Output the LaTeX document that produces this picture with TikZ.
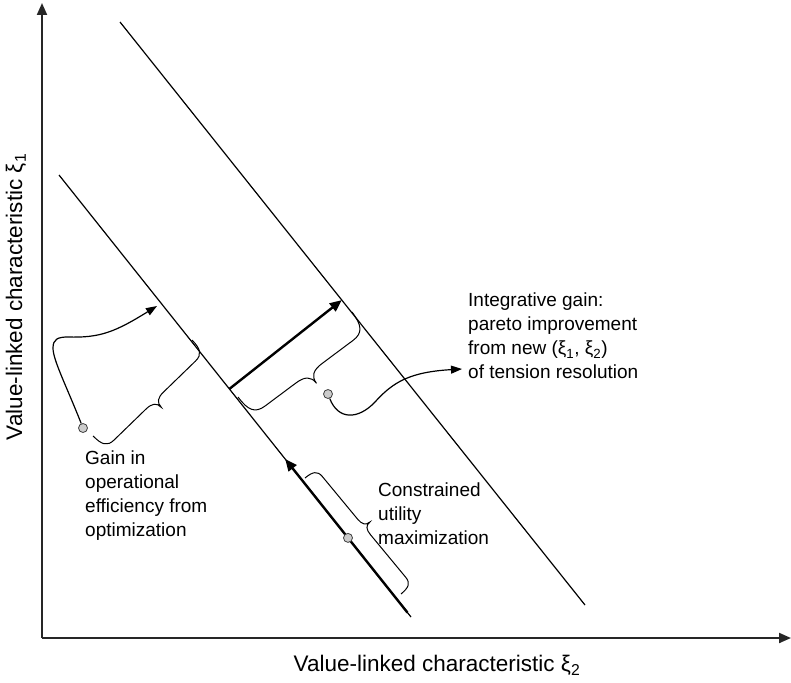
\documentclass[tikz,border=0pt]{standalone}
\usepackage{fontspec}
\setmainfont{Liberation Sans}
\usetikzlibrary{arrows.meta,decorations,calc}

% A curly brace with rounded end curls and a pointed middle tip
\pgfdeclaredecoration{softbrace}{brace}{%
  \state{brace}[width=+\pgfdecoratedremainingdistance,next state=final]{%
    \pgfmathsetlengthmacro\bA{\pgfdecorationsegmentamplitude}%
    \pgfmathsetlengthmacro\bL{\pgfdecoratedremainingdistance}%
    \pgfpathmoveto{\pgfpointorigin}%
    \pgfpathcurveto{\pgfpoint{0pt}{.45*\bA}}{\pgfpoint{.1*\bA}{.65*\bA}}{\pgfpoint{.45*\bA}{.65*\bA}}%
    \pgfpathlineto{\pgfpoint{.5*\bL-.45*\bA}{.65*\bA}}%
    \pgfpathcurveto{\pgfpoint{.5*\bL-.15*\bA}{.65*\bA}}{\pgfpoint{.5*\bL}{.75*\bA}}{\pgfpoint{.5*\bL}{\bA}}%
    \pgfpathcurveto{\pgfpoint{.5*\bL}{.75*\bA}}{\pgfpoint{.5*\bL+.15*\bA}{.65*\bA}}{\pgfpoint{.5*\bL+.45*\bA}{.65*\bA}}%
    \pgfpathlineto{\pgfpoint{\bL-.45*\bA}{.65*\bA}}%
    \pgfpathcurveto{\pgfpoint{\bL-.1*\bA}{.65*\bA}}{\pgfpoint{\bL}{.45*\bA}}{\pgfpoint{\bL}{0pt}}%
  }%
  \state{final}{}%
}

\begin{document}
\begin{tikzpicture}[x=1pt,y=-1pt,
  axisline/.style={line width=2pt,draw=black!85,-{Triangle[length=12pt,width=10pt]}},
  budget/.style={line width=1.2pt},
  shiftarrow/.style={line width=2.4pt,-{Triangle[length=12pt,width=10pt]}},
  curly/.style={line width=1pt,decorate,decoration={softbrace,amplitude=#1}},
  pointer/.style={line width=1.2pt,-{Triangle[length=11pt,width=8pt]}},
  knob/.style={circle,draw=black!75,fill=black!20,line width=0.8pt,minimum size=9pt,inner sep=0pt},
  note/.style={font=\fontsize{19}{24}\selectfont,align=left,inner sep=0pt,anchor=north west},
  axisnote/.style={font=\fontsize{22.5}{27}\selectfont,inner sep=0pt},
]
\useasboundingbox (0,0) rectangle (791,682);

% axes
\coordinate (origin) at (42,638);
\coordinate (ytop) at (42,3);
\coordinate (xend) at (791,638);
\draw[axisline] (origin) -- (ytop);
\draw[axisline] (origin) -- (xend);

% the two parallel frontier lines
\coordinate (i1) at (59,175);
\coordinate (i2) at (411,617);
\coordinate (o1) at (120,22);
\coordinate (o2) at (585,605);
\draw[budget] (i1) -- (i2);
\draw[budget] (o1) -- (o2);

% shift from inner to outer line
\coordinate (m1) at ($(i1)!0.484!(i2)$);
\coordinate (m2) at ($(o1)!0.477!(o2)$);
\draw[shiftarrow] (m1) -- (m2);

% movement along the inner line
\coordinate (c1) at ($(i1)!0.99!(i2)$);
\coordinate (c2) at ($(i1)!0.6425!(i2)$);
\draw[shiftarrow] (c1) -- (c2);

% braces
\coordinate (lb1) at (192,340);
\coordinate (lb2) at (93,436);
\draw[curly=27pt] (lb1) -- (lb2);
\coordinate (mb1) at (352,312);
\coordinate (mb2) at (238,397);
\draw[curly=36pt] (mb1) -- (mb2);
\coordinate (rb1) at (305,478);
\coordinate (rb2) at (401,594);
\draw[curly=22pt] (rb1) -- (rb2);

% marker dots
\node[knob] (p1) at (83,428) {};
\node[knob] (p2) at (328,394) {};
\node[knob] (p3) at ($(i1)!0.821!(i2)$) {};

% pointers
\coordinate (lt) at (157,306);
\draw[pointer] (p1) .. controls (66,385) and (53,360) .. (53,348)
  .. controls (53,339) and (58,337) .. (68,337)
  .. controls (100,338) and (115,332) .. (lt);
\coordinate (rt) at (462,369);
\draw[pointer] (p2) .. controls (338,420) and (358,420) .. (375,402)
  .. controls (393,382) and (410,372) .. (rt);

% texts
\node[note] (gain) at (85,451) {Gain in\\operational\\efficiency from\\optimization};
\node[note] (constr) at (378,483) {Constrained\\utility\\maximization};
\node[note] (integ) at (468,293) {Integrative gain:\\pareto improvement\\from new (ξ\textsubscript{1}, ξ\textsubscript{2})\\of tension resolution};
\node[axisnote] (xlab) at (437,665) {Value-linked characteristic ξ\textsubscript{2}};
\node[axisnote,rotate=90] (ylab) at (16,297) {Value-linked characteristic ξ\textsubscript{1}};
\end{tikzpicture}
\end{document}
